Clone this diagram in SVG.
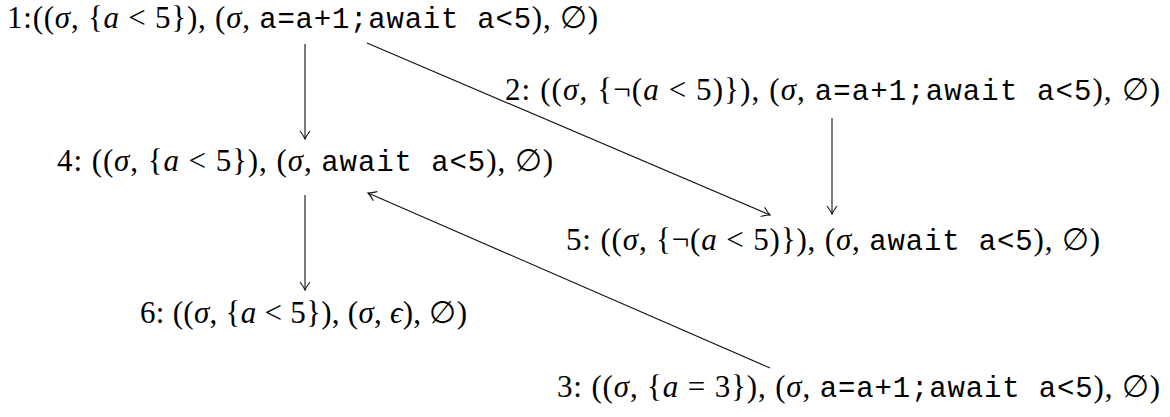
<svg xmlns="http://www.w3.org/2000/svg" width="1170" height="417" viewBox="0 0 1170 417">
<defs>
<style>
text{font-family:"Liberation Serif","DejaVu Serif",serif;font-size:31px;fill:#000}
.i{font-style:italic}
.m{font-family:"Liberation Mono","DejaVu Sans Mono",monospace;font-size:29px}
.e{fill:none;stroke:#111;stroke-width:1.1}
</style>
<marker id="ah" markerUnits="userSpaceOnUse" markerWidth="14" markerHeight="14" viewBox="-10 -7 12 14" refX="0" refY="0" orient="auto">
<path d="M-8,-5 Q-3,-1.2 0,0 Q-3,1.2 -8,5" fill="none" stroke="#111" stroke-width="1.1"/>
</marker>
</defs>
<rect width="1170" height="417" fill="#fff"/>
<g id="edges">
<line class="e" x1="305" y1="44" x2="305" y2="139" marker-end="url(#ah)"/>
<line class="e" x1="367" y1="43" x2="770" y2="215" marker-end="url(#ah)"/>
<line class="e" x1="832" y1="118" x2="832" y2="214" marker-end="url(#ah)"/>
<line class="e" x1="305" y1="195" x2="305" y2="290" marker-end="url(#ah)"/>
<line class="e" x1="770" y1="368" x2="368" y2="193" marker-end="url(#ah)"/>
</g>
<g id="n1"><text x="7" y="28" textLength="591" lengthAdjust="spacing">1:((<tspan class="i">σ</tspan>, {<tspan class="i">a</tspan> &lt; 5}), (<tspan class="i">σ</tspan>, <tspan class="m">a=a+1;await a&lt;5</tspan>), ∅)</text></g>
<g id="n2"><text x="505" y="100" textLength="655" lengthAdjust="spacing">2:  ((<tspan class="i">σ</tspan>, {¬(<tspan class="i">a</tspan> &lt; 5)}), (<tspan class="i">σ</tspan>, <tspan class="m">a=a+1;await a&lt;5</tspan>), ∅)</text></g>
<g id="n4"><text x="57" y="171" textLength="496" lengthAdjust="spacing">4:  ((<tspan class="i">σ</tspan>, {<tspan class="i">a</tspan> &lt; 5}), (<tspan class="i">σ</tspan>, <tspan class="m">await a&lt;5</tspan>), ∅)</text></g>
<g id="n5"><text x="566" y="250" textLength="534" lengthAdjust="spacing">5:  ((<tspan class="i">σ</tspan>, {¬(<tspan class="i">a</tspan> &lt; 5)}), (<tspan class="i">σ</tspan>, <tspan class="m">await a&lt;5</tspan>), ∅)</text></g>
<g id="n6"><text x="140" y="323" textLength="327" lengthAdjust="spacing">6:  ((<tspan class="i">σ</tspan>, {<tspan class="i">a</tspan> &lt; 5}), (<tspan class="i">σ</tspan>, <tspan class="i">ϵ</tspan>), ∅)</text></g>
<g id="n3"><text x="557" y="397" textLength="603" lengthAdjust="spacing">3:  ((<tspan class="i">σ</tspan>, {<tspan class="i">a</tspan> = 3}), (<tspan class="i">σ</tspan>, <tspan class="m">a=a+1;await a&lt;5</tspan>), ∅)</text></g>
</svg>
